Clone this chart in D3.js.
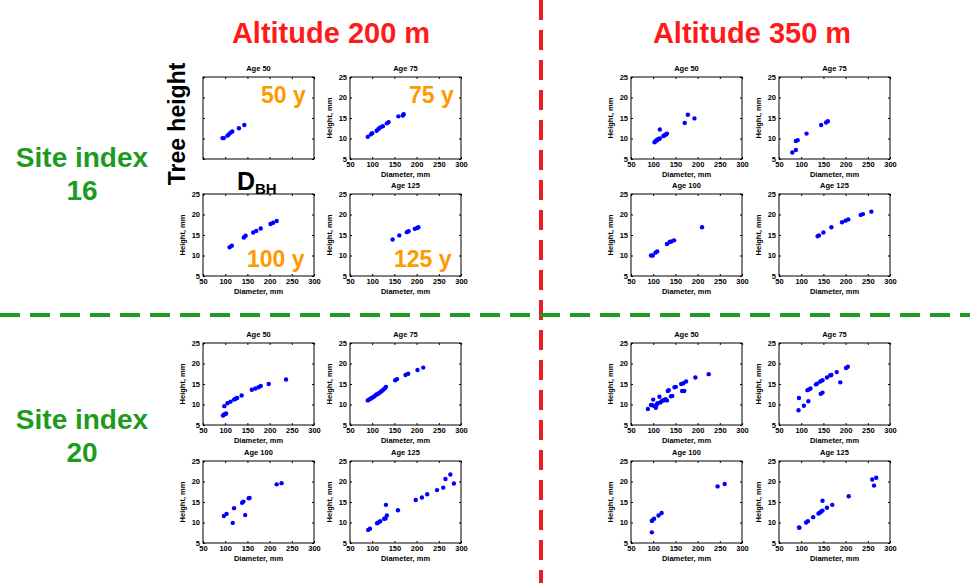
<!DOCTYPE html>
<html>
<head>
<meta charset="utf-8">
<script src="https://cdn.jsdelivr.net/npm/d3@7"></script>
<style>
  body { margin: 0; background: #fff; }
  text { font-family: "Liberation Sans", Arial, Helvetica, sans-serif; }
</style>
</head>
<body>
<div id="chart"></div>
<script>
// Axis ticks
const xTicks = [50, 100, 150, 200, 250, 300];
const yTicks = [5, 10, 15, 20, 25];

// Altitude 200 m, site index 16
const a200s16age50 = [[94,10.1],[97,10.1],[105,10.7],[108,11.0],[112,11.4],[116,11.7],[131,12.5],[143,13.3]];
const a200s16age75 = [[90,10.4],[97,11.0],[100,11.3],[110,11.9],[114,12.3],[118,12.7],[124,13.0],[133,13.7],[137,14.0],[159,15.4],[169,15.6],[171,15.9]];
const a200s16age100 = [[110,12.0],[115,12.4],[142,14.4],[146,14.8],[163,15.6],[170,16.0],[180,16.6],[202,17.7],[208,18.0],[216,18.4]];
const a200s16age125 = [[146,13.9],[161,14.9],[178,15.7],[182,15.9],[196,16.5],[201,16.7],[204,16.9]];

// Altitude 350 m, site index 16
const a350s16age50 = [[103,9.1],[105,9.3],[107,9.5],[109,9.6],[111,9.8],[113,9.9],[115,10.0],[115,12.2],[123,10.6],[126,10.8],[129,11.0],[131,11.2],[171,13.8],[178,15.8],[193,14.9]];
const a350s16age75 = [[80,6.6],[88,7.2],[88,9.4],[92,9.6],[112,11.2],[145,13.3],[156,13.9],[160,14.2]];
const a350s16age100 = [[95,10.0],[99,10.0],[105,10.7],[109,11.0],[131,12.8],[137,13.3],[141,13.4],[147,13.7],[210,16.9]];
const a350s16age125 = [[137,14.7],[140,14.9],[150,15.6],[168,16.9],[192,18.1],[200,18.5],[206,18.8],[234,19.9],[239,20.1],[258,20.7]];

// Altitude 200 m, site index 20
const a200s20age50 = [[95,7.3],[97,7.5],[100,7.7],[102,7.8],[98,9.6],[105,10.3],[112,10.7],[120,11.2],[123,11.4],[127,11.6],[137,12.2],[160,13.6],[168,13.9],[175,14.2],[180,14.5],[198,15.0],[237,16.1]];
const a200s20age75 = [[90,11.0],[93,11.2],[96,11.4],[99,11.6],[102,11.8],[105,12.0],[108,12.3],[111,12.5],[114,12.7],[117,12.9],[120,13.2],[123,13.4],[126,13.7],[129,14.0],[131,14.3],[152,15.9],[156,16.2],[175,17.2],[181,17.5],[202,18.4],[215,19.0]];
const a200s20age100 = [[97,11.6],[103,12.1],[117,9.9],[120,13.5],[138,14.8],[141,15.1],[145,11.8],[153,15.9],[155,16.0],[216,19.3],[227,19.6]];
const a200s20age125 = [[91,8.2],[95,8.5],[111,9.8],[114,10.0],[118,10.3],[127,10.9],[130,11.0],[133,11.7],[131,14.3],[158,13.0],[198,15.5],[212,16.1],[224,16.9],[246,17.9],[260,18.5],[265,20.6],[276,21.7],[284,19.5]];

// Altitude 350 m, site index 20
const a350s20age50 = [[88,8.9],[95,9.9],[98,9.8],[100,11.2],[103,9.6],[106,9.2],[108,10.0],[110,10.3],[114,11.9],[116,10.5],[119,10.8],[122,11.0],[125,11.1],[128,11.3],[131,11.0],[133,13.3],[135,13.5],[140,12.0],[143,12.1],[148,14.2],[151,14.3],[163,15.0],[165,13.3],[168,15.2],[170,13.3],[174,15.6],[195,16.6],[225,17.4]];
const a350s20age75 = [[94,8.6],[95,11.6],[106,9.7],[116,10.8],[114,13.5],[118,13.7],[121,13.9],[133,14.9],[136,15.1],[143,15.6],[144,12.6],[148,12.9],[148,15.9],[158,16.6],[165,17.1],[168,17.2],[180,17.9],[188,15.4],[201,18.9],[205,19.2]];
const a350s20age100 = [[97,10.4],[98,10.5],[102,10.9],[112,11.7],[119,12.3],[97,7.6],[245,18.8],[261,19.4]];
const a350s20age125 = [[95,8.8],[96,8.7],[111,10.0],[115,10.3],[127,11.3],[139,12.2],[142,12.4],[145,12.7],[148,12.9],[148,15.3],[158,13.6],[170,14.3],[207,16.4],[260,20.5],[264,19.0],[269,20.9]];

// hidden: which labels of a panel sit under the big overlay text
const panels = [
    { row: 0, col: 0, title: "Age 50", data: a200s16age50, hidden: true },
    { row: 0, col: 1, title: "Age 75", data: a200s16age75 },
    { row: 1, col: 0, title: "", data: a200s16age100 },
    { row: 1, col: 1, title: "Age 125", data: a200s16age125 },
    { row: 0, col: 2, title: "Age 50", data: a350s16age50 },
    { row: 0, col: 3, title: "Age 75", data: a350s16age75 },
    { row: 1, col: 2, title: "Age 100", data: a350s16age100 },
    { row: 1, col: 3, title: "Age 125", data: a350s16age125 },
    { row: 2, col: 0, title: "Age 50", data: a200s20age50 },
    { row: 2, col: 1, title: "Age 75", data: a200s20age75 },
    { row: 3, col: 0, title: "Age 100", data: a200s20age100 },
    { row: 3, col: 1, title: "Age 125", data: a200s20age125 },
    { row: 2, col: 2, title: "Age 50", data: a350s20age50 },
    { row: 2, col: 3, title: "Age 75", data: a350s20age75 },
    { row: 3, col: 2, title: "Age 100", data: a350s20age100 },
    { row: 3, col: 3, title: "Age 125", data: a350s20age125 }
];

const width = 970, height = 583;
const colX = [203, 350, 631, 779];
const rowY = [77, 194, 343, 461];
const pw = 111, ph = 82;

const svg = d3.select("#chart")
    .append("svg")
    .attr("width", width)
    .attr("height", height);

const x = d3.scaleLinear().domain([50, 300]).range([0, pw]);
const y = d3.scaleLinear().domain([5, 25]).range([ph, 0]);

panels.forEach(p => {
    const g = svg.append("g")
        .attr("transform", `translate(${colX[p.col]},${rowY[p.row]})`);

    // ticks point inward, like matlab
    g.append("g").attr("transform", `translate(0,${ph})`)
        .call(d3.axisBottom(x).tickValues(xTicks).tickSize(-2).tickPadding(3)
            .tickFormat(p.hidden ? "" : d3.format("d")));
    g.append("g")
        .call(d3.axisLeft(y).tickValues(yTicks).tickSize(-2).tickPadding(3)
            .tickFormat(p.hidden ? "" : d3.format("d")));
    g.append("g")
        .call(d3.axisTop(x).tickValues(xTicks).tickSize(-2).tickFormat(""));
    g.append("g").attr("transform", `translate(${pw},0)`)
        .call(d3.axisRight(y).tickValues(yTicks).tickSize(-2).tickFormat(""));

    g.selectAll(".domain").remove();
    g.selectAll(".tick line").attr("stroke", "#000");
    g.selectAll(".tick text")
        .attr("fill", "#000")
        .style("font-size", "7.5px")
        .style("font-weight", "bold")
        .style("font-family", "'Liberation Sans', Arial, sans-serif");

    g.append("rect")
        .attr("width", pw)
        .attr("height", ph)
        .attr("fill", "none")
        .attr("stroke", "#000")
        .attr("stroke-width", 1);

    if (p.title) {
        g.append("text")
            .attr("x", pw / 2)
            .attr("y", -6)
            .attr("text-anchor", "middle")
            .style("font-size", "7.5px")
            .style("font-weight", "bold")
            .text(p.title);
    }

    if (!p.hidden) {
        g.append("text")
            .attr("x", pw / 2)
            .attr("y", ph + 18)
            .attr("text-anchor", "middle")
            .style("font-size", "7.5px")
            .style("font-weight", "bold")
            .text("Diameter, mm");

        g.append("text")
            .attr("transform", `translate(-18,${ph / 2}) rotate(-90)`)
            .attr("text-anchor", "middle")
            .style("font-size", "7.5px")
            .style("font-weight", "bold")
            .text("Height, mm");
    }

    g.selectAll("circle")
        .data(p.data)
        .join("circle")
        .attr("cx", d => x(d[0]))
        .attr("cy", d => y(d[1]))
        .attr("r", 2.2)
        .attr("fill", "#0000ff");
});

// age labels
const ageLabels = [
    { text: "50 y", x: 261, y: 103 },
    { text: "75 y", x: 409, y: 103 },
    { text: "100 y", x: 247, y: 267 },
    { text: "125 y", x: 394, y: 267 }
];
svg.selectAll(".age")
    .data(ageLabels)
    .join("text")
    .attr("class", "age")
    .attr("x", d => d.x)
    .attr("y", d => d.y)
    .attr("fill", "#ff9900")
    .style("font-size", "23px")
    .style("font-weight", "bold")
    .text(d => d.text);

svg.append("text")
    .attr("transform", "translate(185,124) rotate(-90)")
    .attr("text-anchor", "middle")
    .style("font-size", "23px")
    .style("font-weight", "bold")
    .text("Tree height");

svg.append("text")
    .attr("x", 237).attr("y", 190)
    .style("font-size", "25px")
    .style("font-weight", "bold")
    .text("D");
svg.append("text")
    .attr("x", 255).attr("y", 194)
    .style("font-size", "15px")
    .style("font-weight", "bold")
    .text("BH");

// headers
svg.append("text").attr("x", 331).attr("y", 43).attr("text-anchor", "middle")
    .attr("fill", "#ff1a1a").style("font-size", "29px").style("font-weight", "bold")
    .text("Altitude 200 m");
svg.append("text").attr("x", 752).attr("y", 43).attr("text-anchor", "middle")
    .attr("fill", "#ff1a1a").style("font-size", "29px").style("font-weight", "bold")
    .text("Altitude 350 m");

const siteLabels = [
    { lines: ["Site index", "16"], y: 167 },
    { lines: ["Site index", "20"], y: 429 }
];
siteLabels.forEach(s => {
    s.lines.forEach((l, i) => {
        svg.append("text")
            .attr("x", 82)
            .attr("y", s.y + i * 33)
            .attr("text-anchor", "middle")
            .attr("fill", "#1e9b1e")
            .style("font-size", "28px")
            .style("font-weight", "bold")
            .text(l);
    });
});

// dividers
svg.append("line")
    .attr("x1", 541).attr("x2", 541).attr("y1", 0).attr("y2", height)
    .attr("stroke", "#ee1c1c").attr("stroke-width", 4).attr("stroke-dasharray", "20,10");
svg.append("line")
    .attr("x1", 0).attr("x2", width).attr("y1", 315).attr("y2", 315)
    .attr("stroke", "#1e9b1e").attr("stroke-width", 4).attr("stroke-dasharray", "20,10");
</script>
</body>
</html>
